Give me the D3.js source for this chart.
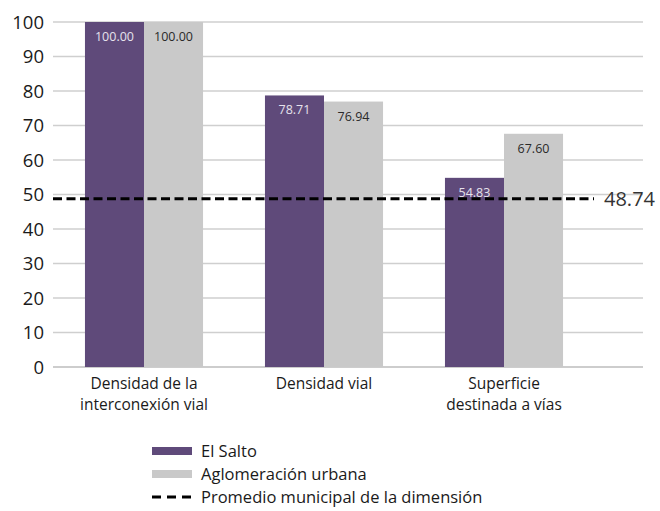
<!DOCTYPE html>
<html>
<head>
<meta charset="utf-8">
<script src="https://cdn.jsdelivr.net/npm/d3@7"></script>
<style>
  body { margin: 0; background: #fff; }
  svg { font-family: "Open Sans", "Noto Sans", sans-serif; display: block; }
</style>
</head>
<body>
<div id="chart"></div>
<script>
const categories = [
  ['Densidad de la', 'interconexión vial'],
  ['Densidad vial'],
  ['Superficie', 'destinada a vías']
];
const catKeys = ['c1', 'c2', 'c3'];
const elSalto = [100.00, 78.71, 54.83];
const aglomeracion = [100.00, 76.94, 67.60];
const promedio = 48.74;
const yTicks = [0, 10, 20, 30, 40, 50, 60, 70, 80, 90, 100];
const seriesNames = ['El Salto', 'Aglomeración urbana', 'Promedio municipal de la dimensión'];

const width = 660;
const height = 511;
const purple = '#5f4a7a';
const gray = '#c9c9c9';

const svg = d3.select('#chart')
  .append('svg')
  .attr('width', width)
  .attr('height', height);

const x = d3.scaleBand()
  .domain(catKeys)
  .range([54, 594])
  .paddingInner(0.344)
  .paddingOuter(0.172);

const xSub = d3.scaleBand()
  .domain(['s', 'a'])
  .range([0, x.bandwidth()]);

const y = d3.scaleLinear().domain([0, 100]).range([367, 22]);

// gridlines
svg.append('g')
  .selectAll('line')
  .data(yTicks)
  .join('line')
  .attr('x1', 53)
  .attr('x2', 643)
  .attr('y1', d => y(d))
  .attr('y2', d => y(d))
  .attr('stroke', d => d === 0 ? '#bdbdbd' : '#cfcfcf')
  .attr('stroke-width', 1.5);

// y labels
svg.append('g')
  .selectAll('text')
  .data(yTicks)
  .join('text')
  .attr('x', 44)
  .attr('y', d => y(d) + 6.5)
  .attr('text-anchor', 'end')
  .attr('font-size', 18.5)
  .attr('fill', '#1a1a1a')
  .text(d => d);

// bars
const rows = catKeys.map((k, i) => ({ key: k, s: elSalto[i], a: aglomeracion[i] }));
const groups = svg.append('g')
  .selectAll('g')
  .data(rows)
  .join('g')
  .attr('transform', d => `translate(${x(d.key)},0)`);

groups.append('rect')
  .attr('x', xSub('s'))
  .attr('width', xSub.bandwidth())
  .attr('y', d => y(d.s))
  .attr('height', d => y(0) - y(d.s))
  .attr('fill', purple);

groups.append('rect')
  .attr('x', xSub('a'))
  .attr('width', xSub.bandwidth())
  .attr('y', d => y(d.a))
  .attr('height', d => y(0) - y(d.a))
  .attr('fill', gray);

groups.append('text')
  .attr('x', xSub('s') + xSub.bandwidth() / 2)
  .attr('y', d => y(d.s) + 19)
  .attr('text-anchor', 'middle')
  .attr('font-size', 12.5)
  .attr('fill', '#e6e2ec')
  .text(d => d.s.toFixed(2));

groups.append('text')
  .attr('x', xSub('a') + xSub.bandwidth() / 2)
  .attr('y', d => y(d.a) + 19)
  .attr('text-anchor', 'middle')
  .attr('font-size', 12.5)
  .attr('fill', '#2a2a2a')
  .text(d => d.a.toFixed(2));

// average line
svg.append('line')
  .attr('x1', 53)
  .attr('x2', 594)
  .attr('y1', y(promedio))
  .attr('y2', y(promedio))
  .attr('stroke', '#000')
  .attr('stroke-width', 3)
  .attr('stroke-dasharray', '9,4.5');

svg.append('text')
  .attr('x', 604)
  .attr('y', y(promedio) + 7.5)
  .attr('font-size', 20)
  .attr('fill', '#333')
  .text(promedio.toFixed(2));

// x labels
const xl = svg.append('g')
  .selectAll('text')
  .data(catKeys)
  .join('text')
  .attr('x', d => x(d) + x.bandwidth() / 2)
  .attr('y', 389)
  .attr('text-anchor', 'middle')
  .attr('font-size', 15.5)
  .attr('fill', '#1a1a1a');

xl.selectAll('tspan')
  .data((d, i) => categories[i])
  .join('tspan')
  .attr('x', function () { return d3.select(this.parentNode).attr('x'); })
  .attr('dy', (d, i) => i === 0 ? 0 : 21)
  .text(d => d);

// legend
const legend = svg.append('g').attr('transform', 'translate(152,0)');
const legendY = [451, 474, 497];

legend.append('rect')
  .attr('x', 0).attr('y', legendY[0] - 4)
  .attr('width', 40).attr('height', 8)
  .attr('fill', purple);

legend.append('rect')
  .attr('x', 0).attr('y', legendY[1] - 4)
  .attr('width', 40).attr('height', 8)
  .attr('fill', gray);

legend.append('line')
  .attr('x1', 0).attr('x2', 40)
  .attr('y1', legendY[2]).attr('y2', legendY[2])
  .attr('stroke', '#000')
  .attr('stroke-width', 3)
  .attr('stroke-dasharray', '9,6');

legend.selectAll('text')
  .data(seriesNames)
  .join('text')
  .attr('x', 49)
  .attr('y', (d, i) => legendY[i] + 6)
  .attr('font-size', 16.5)
  .attr('fill', '#1a1a1a')
  .text(d => d);
</script>
</body>
</html>
